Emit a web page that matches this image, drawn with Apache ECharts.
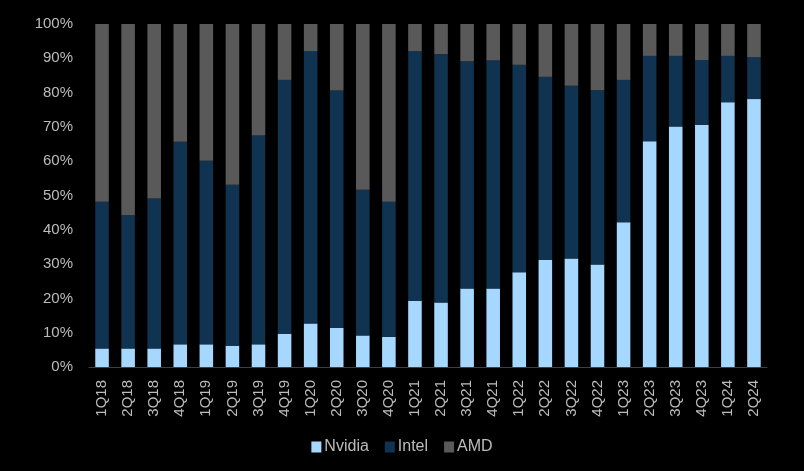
<!DOCTYPE html>
<html>
<head>
<meta charset="utf-8">
<script src="https://cdn.jsdelivr.net/npm/echarts@6/dist/echarts.min.js"></script>
<style>
html,body{margin:0;padding:0;background:#000;}
#c{width:804px;height:471px;}
</style>
</head>
<body>
<div id="c"></div>
<script>
var categories = ['1Q18','2Q18','3Q18','4Q18','1Q19','2Q19','3Q19','4Q19','1Q20','2Q20','3Q20','4Q20','1Q21','2Q21','3Q21','4Q21','1Q22','2Q22','3Q22','4Q22','1Q23','2Q23','3Q23','4Q23','1Q24','2Q24'];
var nvidia = [5.4,5.4,5.4,6.6,6.6,6.2,6.6,9.7,12.7,11.4,9.2,8.8,19.3,18.8,22.9,22.9,27.6,31.2,31.6,29.9,42.2,65.8,70.1,70.6,77.2,78.1];
var intel = [42.8,38.9,43.7,59.1,53.5,46.9,60.9,74.0,79.4,69.2,42.5,39.4,72.8,72.4,66.2,66.5,60.5,53.4,50.4,50.8,41.5,24.9,20.6,18.9,13.5,12.2];
var amd = [51.8,55.7,50.9,34.3,39.9,46.9,32.5,16.3,7.9,19.4,48.3,51.8,7.9,8.8,10.9,10.6,11.9,15.4,18.0,19.3,16.3,9.3,9.3,10.5,9.3,9.7];
var yTicks = [0,10,20,30,40,50,60,70,80,90,100];

var textColor = '#bcbcbc';
var font = 'Liberation Sans, Arial, sans-serif';
var chart = echarts.init(document.getElementById('c'));
chart.setOption({
  backgroundColor: '#000',
  animation: false,
  grid: {left: 89, right: 37, top: 24, bottom: 104},
  legend: {
    bottom: 11,
    left: 'center',
    itemWidth: 10,
    itemHeight: 11,
    itemGap: 16,
    icon: 'rect',
    textStyle: {color: textColor, fontSize: 16, fontFamily: font, padding: [0,0,0,-2]},
    data: ['Nvidia','Intel','AMD']
  },
  xAxis: {
    type: 'category',
    data: categories,
    axisLine: {lineStyle: {color: '#404040', width: 1}},
    axisTick: {show: false},
    axisLabel: {rotate: 90, color: textColor, fontSize: 15, fontFamily: font, margin: 13, interval: 0}
  },
  yAxis: {
    type: 'value',
    min: yTicks[0],
    max: yTicks[yTicks.length-1],
    interval: 10,
    splitLine: {show: false},
    axisLine: {show: false},
    axisTick: {show: false},
    axisLabel: {color: textColor, fontSize: 15, fontFamily: font, margin: 16, formatter: '{value}%'}
  },
  series: [
    {name: 'Nvidia', type: 'bar', stack: 's', data: nvidia, barWidth: '52%', itemStyle: {color: '#a6d8ff'}},
    {name: 'Intel', type: 'bar', stack: 's', data: intel, barWidth: '52%', itemStyle: {color: '#0f3350'}},
    {name: 'AMD', type: 'bar', stack: 's', data: amd, barWidth: '52%', itemStyle: {color: '#595959'}}
  ]
});
</script>
</body>
</html>
